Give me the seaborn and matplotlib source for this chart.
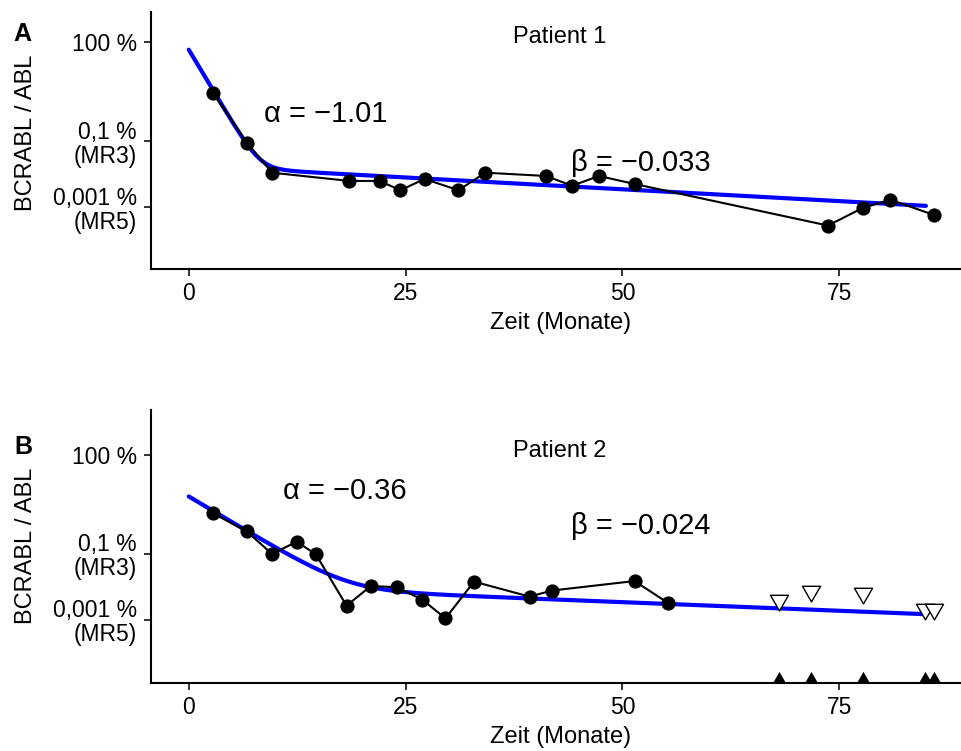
import numpy as np
import pandas as pd
import matplotlib
matplotlib.use("Agg")
import matplotlib.pyplot as plt
import seaborn as sns

# --- measurements (months, BCR-ABL/ABL in %) ---------------------------------
p1_months = [2.8, 6.7, 9.6, 18.5, 22.0, 24.4, 27.2, 31.1, 34.2, 41.2, 44.2,
             47.3, 51.4, 73.7, 77.7, 80.9, 85.9]
p1_ratio = [2.95, 0.091, 0.0112, 0.0063, 0.0063, 0.0033, 0.0072, 0.0033,
            0.0112, 0.0089, 0.0045, 0.0089, 0.0051, 0.00028, 0.00095,
            0.0017, 0.00059]

p2_months = [2.8, 6.7, 9.6, 12.45, 14.65, 18.2, 21.0, 24.0, 26.95, 29.6,
             32.9, 39.3, 41.9, 51.4, 55.25]
p2_ratio = [1.7, 0.48, 0.10, 0.234, 0.098, 0.0027, 0.0107, 0.0098, 0.0041,
            0.00112, 0.0145, 0.0051, 0.0078, 0.0151, 0.0033]

# patient 2: samples below detection limit (upper bound of the ratio)
p2_neg_months = [68.1, 71.7, 77.8, 84.9, 85.9]
p2_neg_bound = [0.0040, 0.0076, 0.0066, 0.0022, 0.0021]
neg_marker_level = 1.66e-5

# --- bi-exponential fits: y = A*exp(alpha*t) + B*exp(beta*t) -----------------
fit1 = dict(A=60.0, alpha=-1.01, B=0.0183, beta=-0.033, t_end=85.0)
fit2 = dict(A=5.5, alpha=-0.36, B=0.0115, beta=-0.024, t_end=85.0)

# --- axis ticks ---------------------------------------------------------------
y_ticks = [100, 0.1, 0.001]
y_tick_labels = ["100 %", "0,1 %\n(MR3)", "0,001 %\n(MR5)"]
x_ticks = [0, 25, 50, 75]


def fit_curve(p):
    t = np.linspace(0, p["t_end"], 300)
    y = p["A"] * np.exp(p["alpha"] * t) + p["B"] * np.exp(p["beta"] * t)
    return pd.DataFrame({"t": t, "y": y})


sns.set_theme(style="ticks")
plt.rcParams["font.family"] = ["Liberation Sans", "DejaVu Sans"]
plt.rcParams["axes.unicode_minus"] = True
plt.rcParams["text.color"] = "black"
plt.rcParams["axes.labelcolor"] = "black"
plt.rcParams["xtick.labelcolor"] = "black"
plt.rcParams["ytick.labelcolor"] = "black"

W, H = 962, 751
fig = plt.figure(figsize=(W / 100, H / 100), dpi=100)


def px_axes(left, top, right, bottom):
    return fig.add_axes([left / W, 1 - bottom / H, (right - left) / W,
                         (bottom - top) / H])


axA = px_axes(151, 12, 971, 269)
axB = px_axes(151, 410, 971, 682.7)


def style_axes(ax, ylog_lim):
    ax.set_yscale("log")
    ax.set_xlim(-4.35, 90.2)
    ax.set_ylim(10 ** ylog_lim[0], 10 ** ylog_lim[1])
    ax.set_yticks(y_ticks)
    ax.set_yticklabels(y_tick_labels, linespacing=1.05)
    ax.yaxis.set_minor_locator(matplotlib.ticker.NullLocator())
    ax.set_xticks(x_ticks)
    ax.set_xticklabels([str(v) for v in x_ticks])
    for s in ["top", "right"]:
        ax.spines[s].set_visible(False)
    for s in ["left", "bottom"]:
        ax.spines[s].set_color("black")
        ax.spines[s].set_linewidth(1.5)
    ax.tick_params(axis="both", which="major", length=5, width=1.4,
                   color="#333333", labelsize=16.5, labelcolor="black")
    ax.tick_params(axis="y", pad=5.3)
    ax.tick_params(axis="x", pad=4.5)
    ax.set_xlabel("Zeit (Monate)", fontsize=17, labelpad=5, color="black")
    ax.set_ylabel("")
    ax.grid(False)


def draw_patient(ax, months, ratio, fit):
    df = pd.DataFrame({"t": months, "y": ratio})
    fc = fit_curve(fit)
    sns.lineplot(data=fc, x="t", y="y", ax=ax, color="#0000FF", lw=3.0,
                 zorder=2, sort=False)
    sns.lineplot(data=df, x="t", y="y", ax=ax, color="black", lw=1.5,
                 zorder=3, sort=False)
    sns.scatterplot(data=df, x="t", y="y", ax=ax, color="black", s=105,
                    edgecolor="black", linewidth=0, zorder=4)


draw_patient(axA, p1_months, p1_ratio, fit1)
draw_patient(axB, p2_months, p2_ratio, fit2)

neg = pd.DataFrame({"t": p2_neg_months, "y": p2_neg_bound,
                    "base": [neg_marker_level] * len(p2_neg_months)})
sns.scatterplot(data=neg, x="t", y="y", ax=axB, marker=(3, 0, 180), s=225,
                facecolor="white", edgecolor="black", linewidth=1.0, zorder=5)
sns.scatterplot(data=neg, x="t", y="base", ax=axB, marker=(3, 0, 0), s=120,
                color="black", edgecolor="black", linewidth=0, zorder=5,
                clip_on=False)

style_axes(axA, (-4.87, 2.92))
style_axes(axB, (-4.90, 3.36))

# titles and rate constants
axA.text(42.8, 10 ** 1.97, "Patient 1", ha="center", va="baseline", fontsize=17)
axB.text(42.8, 10 ** 1.95, "Patient 2", ha="center", va="baseline", fontsize=17)
axA.text(15.8, 10 ** -0.406, "α = −1.01", ha="center", va="baseline", fontsize=21)
axA.text(52.1, 10 ** -1.89, "β = −0.033", ha="center", va="baseline", fontsize=21)
axB.text(18.0, 10 ** 0.667, "α = −0.36", ha="center", va="baseline", fontsize=21)
axB.text(52.1, 10 ** -0.394, "β = −0.024", ha="center", va="baseline", fontsize=21)

# y labels and panel letters
fig.text(25.8 / W, 1 - 132.5 / H, "BCRABL / ABL", rotation=90, ha="center",
         va="center", fontsize=17)
fig.text(25.8 / W, 1 - 545.8 / H, "BCRABL / ABL", rotation=90, ha="center",
         va="center", fontsize=17)
fig.text(22 / W, 1 - 34 / H, "A", ha="center", va="center", fontsize=18,
         fontweight="bold")
fig.text(23.3 / W, 1 - 447.5 / H, "B", ha="center", va="center", fontsize=18,
         fontweight="bold")

fig.savefig("out.png", dpi=100, facecolor="white")
